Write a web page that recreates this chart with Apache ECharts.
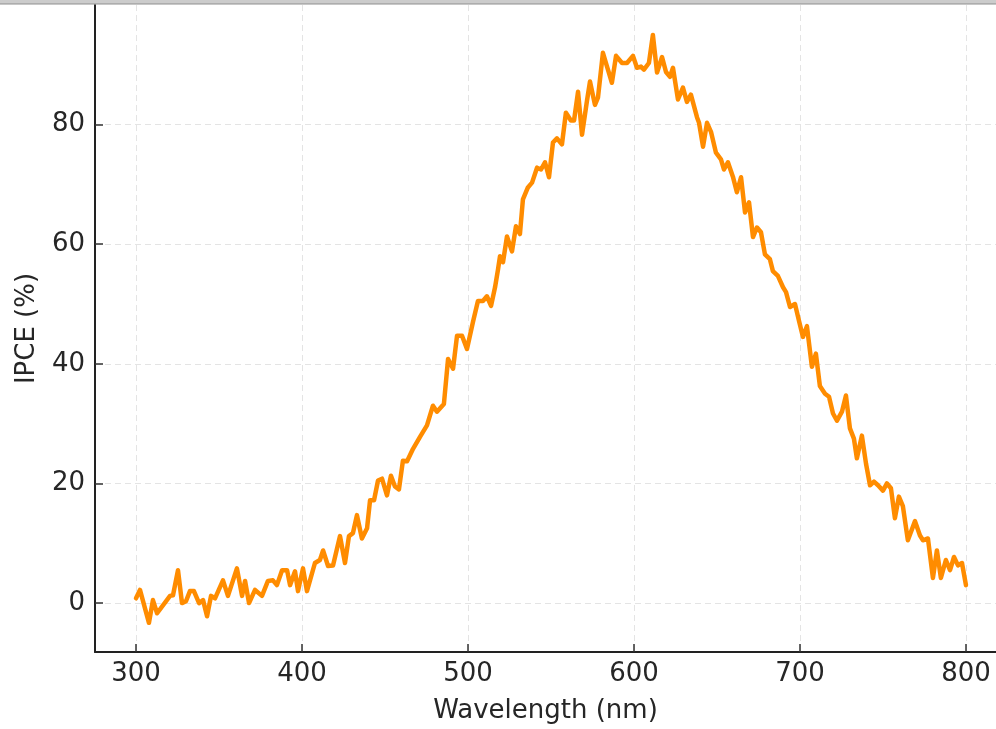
<!DOCTYPE html>
<html>
<head>
<meta charset="utf-8">
<script src="https://cdn.jsdelivr.net/npm/echarts@6/dist/echarts.min.js"></script>
<style>
  html, body { margin: 0; padding: 0; background: #ffffff; }
  #chart { width: 996px; height: 729px; }
</style>
</head>
<body>
<div id="chart"></div>
<script>
// IPCE spectrum: wavelength (nm) and measured IPCE (%)
const wavelength = [
  300, 302.4, 307.8, 310.2, 312.7, 320.5, 322.3, 325.3, 327.7, 330.1,
  332.5, 334.9, 338, 340.4, 342.8, 345.2, 347.6, 352.4, 355.4, 360.8,
  363.9, 365.7, 368.1, 371.7, 375.9, 379.5, 382.5, 384.9, 388, 391,
  392.8, 395.8, 397.6, 400.6, 403, 407.8, 410.8, 412.7, 415.7, 418.7,
  422.9, 425.9, 428.3, 430.7, 433.1, 436.1, 439.2, 441, 443.4, 445.8,
  448.2, 451.2, 453.6, 456, 458.4, 460.8, 463.3, 466.9, 471.1, 475.3,
  478.9, 481.3, 485.5, 488, 491, 493.4, 496.4, 499.4, 503, 506,
  509, 511.4, 513.9, 516.3, 518.1, 519.3, 521.1, 523.5, 526.5, 528.9,
  531.3, 533.1, 536.1, 538.6, 541.6, 544, 546.4, 548.8, 551.2, 553.6,
  556.6, 559, 562, 563.9, 566.3, 568.7, 571.7, 573.5, 576.5, 578.3,
  581.3, 584, 586.7, 589.2, 592.8, 595.8, 599.4, 601.8, 604.2, 606,
  609, 611.4, 613.9, 616.9, 619.3, 621.7, 623.5, 626.5, 629.5, 631.9,
  634.3, 638, 639.2, 641.6, 644, 646.4, 649.4, 652.4, 654.2, 656.6,
  659.6, 662, 664.5, 666.9, 669.3, 671.7, 674.1, 676.5, 678.9, 681.9,
  683.7, 686.7, 689.8, 691.6, 694, 697, 699.4, 701.8, 704.2, 707.2,
  709.6, 712, 715.1, 717.5, 719.9, 722.3, 725.3, 727.7, 730.1, 732.5,
  734.3, 737.3, 739.8, 742.2, 744.6, 747, 750, 752.4, 754.8, 757.2,
  759.6, 762, 765, 769.3, 772.3, 774.1, 777.1, 780.1, 782.5, 784.9,
  787.9, 790.4, 792.8, 795.2, 797.6, 800
];
const ipce = [
  0.8, 2.2, -3.3, 0.5, -1.7, 1.2, 1.3, 5.5, 0, 0.3,
  2, 2, 0, 0.5, -2.2, 1.2, 0.8, 3.8, 1.2, 5.8,
  1.2, 3.7, 0, 2.2, 1.2, 3.7, 3.8, 3, 5.5, 5.5,
  3, 5.3, 2, 5.8, 2, 6.7, 7.2, 8.8, 6.2, 6.3,
  11.2, 6.7, 11.2, 11.7, 14.7, 10.8, 12.5, 17.2, 17.2, 20.5,
  20.8, 18, 21.3, 19.5, 19, 23.8, 23.7, 25.8, 27.8, 29.7,
  33, 32, 33.3, 40.8, 39.2, 44.7, 44.7, 42.5, 47, 50.5,
  50.5, 51.3, 49.7, 52.8, 55.8, 58, 57, 61.3, 58.8, 63,
  61.7, 67.5, 69.5, 70.3, 72.8, 72.5, 73.7, 71.2, 77, 77.7,
  76.7, 82, 80.7, 80.7, 85.5, 78.3, 84, 87.2, 83.3, 84.5,
  92, 89.5, 87, 91.5, 90.3, 90.3, 91.5, 89.5, 89.7, 89.2,
  90.3, 95, 88.7, 91.3, 88.8, 88, 89.5, 84.2, 86.2, 83.8,
  85, 81.2, 80.3, 76.3, 80.3, 78.8, 75.3, 74.2, 72.5, 73.7,
  71.3, 68.7, 71.2, 65.3, 67, 61.2, 62.8, 62, 58.3, 57.5,
  55.5, 54.7, 52.8, 52, 49.5, 50, 47.2, 44.5, 46.3, 39.5,
  41.7, 36.3, 35, 34.5, 31.7, 30.5, 32, 34.7, 29.2, 27.5,
  24.2, 28, 23.3, 19.7, 20.3, 19.7, 18.8, 20, 19.2, 14.2,
  17.8, 16.2, 10.5, 13.7, 11.3, 10.5, 10.8, 4.2, 8.8, 4.2,
  7.2, 5.5, 7.7, 6.3, 6.7, 3
];
const xTicks = [300, 400, 500, 600, 700, 800];
const yTicks = [0, 20, 40, 60, 80];

const seriesData = wavelength.map((w, i) => [w, ipce[i]]);

const textColor = '#262626';
const fontFamily = '"DejaVu Sans", sans-serif';
const gridLine = { show: true, lineStyle: { color: '#e4e4e4', width: 1, type: [6, 4] } };

const chart = echarts.init(document.getElementById('chart'), null, { renderer: 'canvas' });
chart.setOption({
  animation: false,
  backgroundColor: '#ffffff',
  // the plot area runs off the right edge of the canvas
  grid: { left: 95, top: 5, width: 901, height: 648, containLabel: false },
  xAxis: {
    type: 'value',
    min: 275.3,
    max: 818.1,
    name: 'Wavelength (nm)',
    nameLocation: 'middle',
    nameGap: 46,
    nameTextStyle: { color: textColor, fontSize: 26, fontFamily: fontFamily },
    axisLine: { show: true, onZero: false, lineStyle: { color: '#222222', width: 2 } },
    axisTick: { show: true, inside: true, length: 8, customValues: xTicks, lineStyle: { color: '#333333', width: 1.5 } },
    axisLabel: { customValues: xTicks, margin: 9, color: textColor, fontSize: 26, fontFamily: fontFamily },
    splitLine: gridLine
  },
  yAxis: {
    type: 'value',
    min: -8.18,
    max: 100,
    name: 'IPCE (%)',
    nameLocation: 'middle',
    nameGap: 55,
    nameTextStyle: { color: textColor, fontSize: 26, fontFamily: fontFamily },
    axisLine: { show: true, onZero: false, lineStyle: { color: '#222222', width: 2 } },
    axisTick: { show: true, inside: true, length: 8, customValues: yTicks, lineStyle: { color: '#333333', width: 1.5 } },
    axisLabel: { customValues: yTicks, margin: 10, color: textColor, fontSize: 26, fontFamily: fontFamily },
    splitLine: gridLine
  },
  series: [{
    type: 'line',
    data: seriesData,
    showSymbol: false,
    lineStyle: { color: '#ff8c00', width: 4.5, join: 'round', cap: 'round' },
    itemStyle: { color: '#ff8c00' }
  }],
  graphic: [
    { type: 'rect', shape: { x: 0, y: 0, width: 996, height: 4 }, style: { fill: '#cccccc' }, z: 100 },
    { type: 'line', shape: { x1: 0, y1: 4, x2: 996, y2: 4 }, style: { stroke: '#8f8f8f', lineWidth: 1 }, z: 100 }
  ]
});
</script>
</body>
</html>
